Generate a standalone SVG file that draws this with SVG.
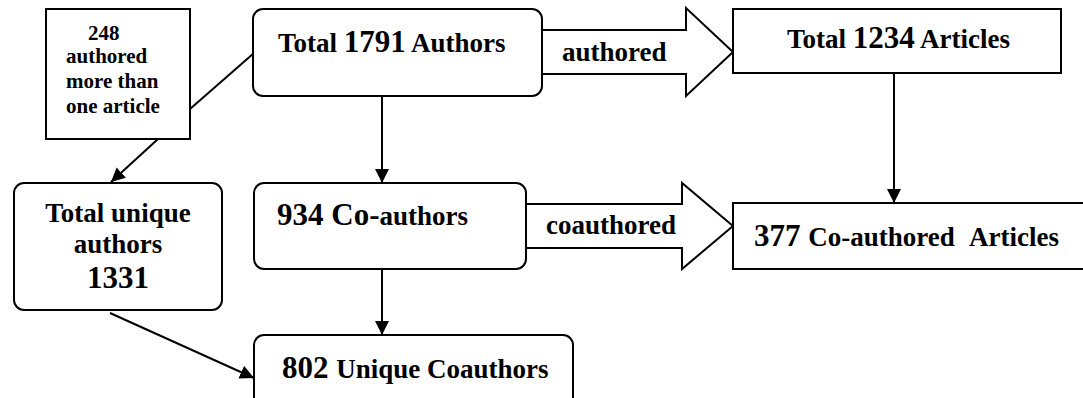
<svg xmlns="http://www.w3.org/2000/svg" width="1083" height="398" viewBox="0 0 1083 398">
<style>
.box{fill:#fff;stroke:#000;stroke-width:2}
.blk{fill:#fff;stroke:#000;stroke-width:2;stroke-linejoin:miter}
.ln{fill:none;stroke:#000;stroke-width:2}
.t26{font-size:27px}
.t31{font-size:31px}
.t21{font-size:21px}
</style>
<defs>
<marker id="ah" viewBox="0 0 14 14" refX="14" refY="7" markerWidth="14" markerHeight="14" markerUnits="userSpaceOnUse" orient="auto">
<path d="M0,0 L14,7 L0,14 z" fill="#000"/>
</marker>
</defs>
<g font-family="Liberation Serif" font-weight="bold" fill="#000">
<g id="connectors">
<polygon class="blk" points="542,30 686,30 686,8 733,52 686,96 686,74 542,74"/>
<polygon class="blk" points="526,204 682,204 682,183 733,226 682,269 682,248 526,248"/>
<line class="ln" x1="382" y1="96" x2="382" y2="183" marker-end="url(#ah)"/>
<line class="ln" x1="382" y1="269" x2="382" y2="335" marker-end="url(#ah)"/>
<line class="ln" x1="894" y1="73" x2="894" y2="203" marker-end="url(#ah)"/>
<line class="ln" x1="254" y1="53" x2="190" y2="109"/>
<line class="ln" x1="158" y1="139" x2="111" y2="182" marker-end="url(#ah)"/>
<line class="ln" x1="110" y1="313" x2="254" y2="378" marker-end="url(#ah)"/>
<text class="t26" x="562" y="61">authored</text>
<text class="t26" x="546" y="234">coauthored</text>
</g>
<g id="n248">
<rect class="box" x="46" y="9" width="144" height="130"/>
<text class="t21" x="88" y="40">248</text>
<text class="t21" x="66" y="63">authored</text>
<text class="t21" x="66" y="88">more than</text>
<text class="t21" x="66" y="113">one article</text>
</g>
<g id="nAuthors">
<rect class="box" x="253" y="9" width="289" height="87" rx="10"/>
<text class="t26" x="278" y="52">Total <tspan class="t31">1791</tspan> Authors</text>
</g>
<g id="nArticles">
<rect class="box" x="733" y="9" width="328" height="64"/>
<text class="t26" x="787" y="48">Total <tspan class="t31">1234</tspan> Articles</text>
</g>
<g id="nUnique">
<rect class="box" x="14" y="183" width="208" height="127" rx="10"/>
<text class="t26" x="118" y="222" text-anchor="middle">Total unique</text>
<text class="t26" x="118" y="253" text-anchor="middle">authors</text>
<text class="t31" x="118" y="288" text-anchor="middle">1331</text>
</g>
<g id="nCoauthors">
<rect class="box" x="254" y="183" width="272" height="86" rx="10"/>
<text class="t31" x="277" y="225">934 Co-<tspan class="t26">authors</tspan></text>
</g>
<g id="nCoArticles">
<rect class="box" x="733" y="203" width="360" height="66"/>
<text class="t31" x="754" y="246">377 <tspan class="t26">Co-authored</tspan><tspan class="t26" x="969">Articles</tspan></text>
</g>
<g id="nUniqueCo">
<rect class="box" x="254" y="335" width="319" height="80" rx="10"/>
<text class="t31" x="282" y="378">802 <tspan class="t26">Unique Coauthors</tspan></text>
</g>
</g>
</svg>
